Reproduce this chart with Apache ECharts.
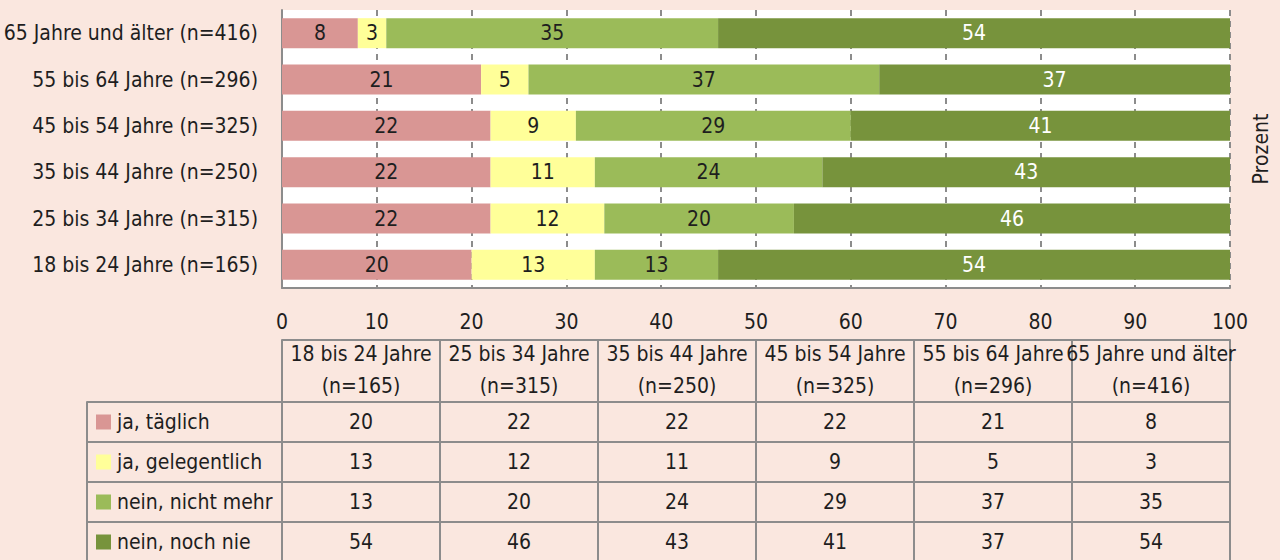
<!DOCTYPE html>
<html>
<head>
<meta charset="utf-8">
<script src="https://cdn.jsdelivr.net/npm/echarts@6/dist/echarts.min.js"></script>
<style>
  html, body { margin: 0; padding: 0; background: #fae7df; }
  #chart { width: 1280px; height: 560px; }
</style>
</head>
<body>
<div id="chart"></div>
<script>
// Altersgruppen und Stichprobengrößen
const ageGroups = ['18 bis 24 Jahre', '25 bis 34 Jahre', '35 bis 44 Jahre', '45 bis 54 Jahre', '55 bis 64 Jahre', '65 Jahre und älter'];
const sampleSizes = [165, 315, 250, 325, 296, 416];

// Antwortkategorien (Prozent je Altersgruppe)
const seriesNames = ['ja, täglich', 'ja, gelegentlich', 'nein, nicht mehr', 'nein, noch nie'];
const jaTaeglich = [20, 22, 22, 22, 21, 8];
const jaGelegentlich = [13, 12, 11, 9, 5, 3];
const neinNichtMehr = [13, 20, 24, 29, 37, 35];
const neinNochNie = [54, 46, 43, 41, 37, 54];

// Prozentachse
const axisMin = 0;
const axisMax = 100;
const axisStep = 10;

const seriesValues = [jaTaeglich, jaGelegentlich, neinNichtMehr, neinNochNie];
const colors = ['#d99694', '#ffff99', '#9bbb59', '#77933c'];
const labelColors = ['#1e1e1e', '#1e1e1e', '#1e1e1e', '#ffffff'];

const FONT = "'DejaVu Sans Condensed', sans-serif";
const FS = 21;
const TEXT = '#1e1e1e';
const LINE = '#8c8c8c';

// Zellen der Datentabelle: [Spalte, Zeile, Wert]
const tableCells = [];
seriesValues.forEach((vals, r) => vals.forEach((v, c) => tableCells.push([c, r, v])));

const legendRich = { t: { fontSize: FS, fontFamily: FONT, color: TEXT, padding: [0, 0, 0, 6] } };
colors.forEach((c, i) => { legendRich['s' + i] = { width: 15, height: 15, backgroundColor: c }; });

const chart = echarts.init(document.getElementById('chart'), null, { renderer: 'svg' });

const barSeries = seriesNames.map((name, i) => ({
  name: name,
  type: 'bar',
  stack: 'anteil',
  xAxisIndex: 0,
  yAxisIndex: 0,
  barWidth: 30,
  itemStyle: { color: colors[i] },
  label: {
    show: true,
    position: 'inside',
    fontSize: FS,
    fontFamily: FONT,
    color: labelColors[i]
  },
  data: seriesValues[i]
}));

chart.setOption({
  backgroundColor: '#fae7df',
  animation: false,
  grid: [
    { left: 282, right: 50, top: 10, height: 278, show: true, backgroundColor: '#ffffff', borderWidth: 0, containLabel: false, outerBoundsMode: 'none' },
    { left: 282, right: 50, top: 402, height: 160, containLabel: false, outerBoundsMode: 'none' }
  ],
  xAxis: [
    {
      gridIndex: 0,
      type: 'value',
      min: axisMin,
      max: axisMax,
      interval: axisStep,
      axisLine: { show: true, lineStyle: { color: LINE, width: 2 } },
      axisTick: { show: false },
      axisLabel: { fontSize: FS, fontFamily: FONT, color: TEXT, margin: 23 },
      splitLine: { show: true, lineStyle: { color: LINE, width: 2, type: [6, 5] } }
    },
    {
      gridIndex: 1,
      type: 'category',
      position: 'top',
      data: ageGroups,
      axisLine: { show: true, lineStyle: { color: LINE, width: 2 } },
      axisTick: { show: true, length: 62, interval: 0, lineStyle: { color: LINE, width: 2 } },
      axisLabel: {
        interval: 0,
        fontSize: FS,
        lineHeight: 32,
        fontFamily: FONT,
        color: TEXT,
        margin: 0,
        formatter: (v, i) => v + '\n(n=' + sampleSizes[i] + ')'
      },
      splitLine: { show: true, interval: 0, lineStyle: { color: LINE, width: 2 } }
    },
    {
      gridIndex: 1,
      type: 'category',
      position: 'top',
      offset: 62,
      data: ageGroups,
      axisLine: { show: true, lineStyle: { color: LINE, width: 2 } },
      axisTick: { show: false },
      axisLabel: { show: false }
    }
  ],
  yAxis: [
    {
      gridIndex: 0,
      type: 'category',
      data: ageGroups,
      axisLine: { show: true, lineStyle: { color: LINE, width: 2 } },
      axisTick: { show: false },
      axisLabel: {
        fontSize: FS,
        fontFamily: FONT,
        color: TEXT,
        margin: 24,
        formatter: (v, i) => v + ' (n=' + sampleSizes[i] + ')'
      }
    },
    {
      gridIndex: 0,
      type: 'category',
      position: 'right',
      data: ageGroups,
      name: 'Prozent',
      nameLocation: 'middle',
      nameGap: 20,
      nameTextStyle: { fontSize: FS, fontFamily: FONT, color: TEXT },
      axisLine: { show: false },
      axisTick: { show: false },
      axisLabel: { show: false }
    },
    {
      gridIndex: 1,
      type: 'category',
      inverse: true,
      data: seriesNames,
      axisLine: { show: true, lineStyle: { color: LINE, width: 2 } },
      axisTick: { show: true, length: 195, interval: 0, lineStyle: { color: LINE, width: 2 } },
      axisLabel: {
        interval: 0,
        align: 'left',
        margin: 186,
        formatter: (v, i) => '{s' + i + '|}{t|' + v + '}',
        rich: legendRich
      },
      splitLine: { show: true, interval: 0, lineStyle: { color: LINE, width: 2 } }
    },
    {
      gridIndex: 1,
      type: 'category',
      inverse: true,
      position: 'left',
      offset: 195,
      data: seriesNames,
      axisLine: { show: true, lineStyle: { color: LINE, width: 2 } },
      axisTick: { show: false },
      axisLabel: { show: false }
    }
  ],
  series: barSeries.concat([{
    type: 'custom',
    name: 'Tabelle',
    xAxisIndex: 1,
    yAxisIndex: 2,
    encode: { x: 0, y: 1 },
    data: tableCells,
    renderItem: (params, api) => {
      const p = api.coord([api.value(0), api.value(1)]);
      return {
        type: 'text',
        x: p[0],
        y: p[1],
        style: {
          text: String(api.value(2)),
          fill: TEXT,
          fontSize: FS,
          fontFamily: FONT,
          align: 'center',
          verticalAlign: 'middle'
        }
      };
    }
  }])
});
</script>
</body>
</html>
